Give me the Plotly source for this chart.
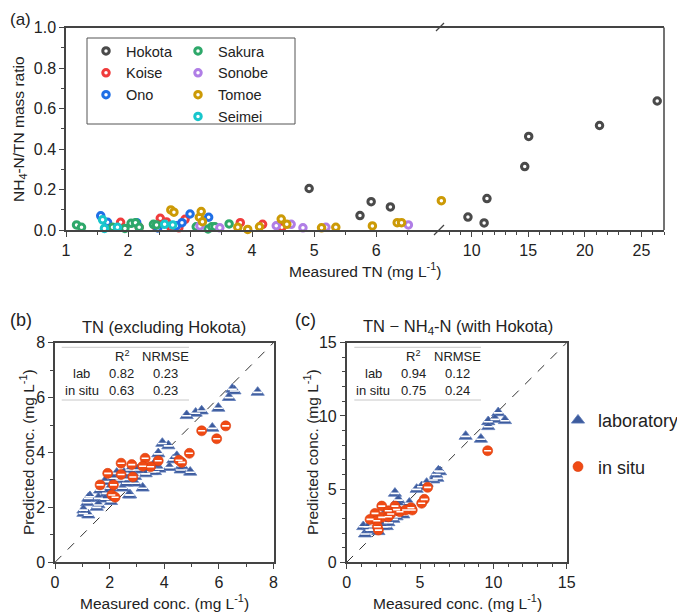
import plotly.graph_objects as go

# ---- (a) NH4-N/TN ratio vs measured TN, by site ----
hokota_tn = [4.92, 5.74, 5.92, 6.23, 9.67, 11.1, 11.35, 14.69, 15.04, 21.3, 26.4]
hokota_ratio = [0.205, 0.071, 0.14, 0.114, 0.064, 0.035, 0.155, 0.313, 0.462, 0.516, 0.637]
koise_tn = [1.88, 2.18, 2.45, 2.52, 2.62, 2.69, 2.82, 2.92, 3.81, 4.17, 4.48]
koise_ratio = [0.038, 0.013, 0.018, 0.058, 0.04, 0.013, 0.011, 0.053, 0.036, 0.028, 0.013]
ono_tn = [1.56, 1.67, 2.14, 2.48, 2.78, 2.87, 3.0, 3.3]
ono_ratio = [0.07, 0.038, 0.036, 0.01, 0.021, 0.036, 0.079, 0.063]
sakura_tn = [1.17, 1.25, 1.75, 1.95, 2.05, 2.12, 2.18, 2.41, 2.46, 3.1, 3.29, 3.35, 3.4, 3.63]
sakura_ratio = [0.025, 0.013, 0.013, 0.008, 0.033, 0.036, 0.013, 0.028, 0.025, 0.016, 0.005, 0.016, 0.016, 0.03]
sonobe_tn = [3.16, 3.48, 4.39, 4.63, 4.82, 5.19, 6.52]
sonobe_ratio = [0.02, 0.011, 0.021, 0.028, 0.011, 0.013, 0.025]
tomoe_tn = [2.69, 2.74, 3.15, 3.18, 3.2, 3.77, 3.93, 4.12, 4.47, 4.56, 5.12, 5.35, 5.94, 6.34, 6.41, 7.32]
tomoe_ratio = [0.099, 0.088, 0.063, 0.091, 0.041, 0.013, 0.003, 0.016, 0.054, 0.028, 0.011, 0.013, 0.02, 0.036, 0.036, 0.145]
seimei_tn = [1.59, 1.62, 1.83, 2.59, 2.72]
seimei_ratio = [0.05, 0.008, 0.013, 0.028, 0.025]

# ---- (b) TN excluding Hokota: measured vs predicted ----
b_lab_meas = [4.82, 5.15, 5.37, 5.98, 5.76, 6.49, 6.57, 6.37, 7.42, 3.93, 4.15, 3.78, 4.46, 4.33,
              4.64, 4.95, 4.19, 3.82, 3.63, 3.54, 3.32, 3.24, 3.02, 2.93, 2.75, 2.65, 2.53, 3.21,
              2.93, 2.75, 2.38, 2.26, 2.14, 2.01, 1.89, 1.83, 1.65, 1.59, 1.53, 1.28, 1.18, 1.04,
              1.04, 1.22, 2.05, 2.47, 1.83, 4.60, 3.66, 2.71, 2.62, 1.59, 1.22]
b_lab_pred = [5.34, 5.43, 5.51, 5.61, 4.88, 6.30, 6.24, 6.00, 6.19, 4.33, 4.24, 3.95, 3.85, 3.73,
              3.51, 3.28, 3.45, 3.39, 3.57, 3.30, 3.22, 3.48, 3.36, 3.12, 3.36, 3.02, 3.24, 2.70,
              2.88, 2.45, 3.00, 3.24, 3.06, 2.70, 2.51, 2.94, 2.63, 2.33, 2.00, 2.39, 2.17, 1.90,
              1.78, 1.72, 2.21, 2.70, 2.30, 3.36, 3.30, 2.45, 2.88, 2.09, 2.33]
b_situ_meas = [5.37, 6.25, 5.92, 4.92, 4.64, 4.54, 3.78, 3.50, 3.30, 3.21, 2.85, 2.81, 2.42, 2.42,
               1.93, 2.14, 1.65, 2.08, 2.20]
b_situ_pred = [4.79, 4.97, 4.50, 3.97, 3.64, 3.72, 3.70, 3.48, 3.79, 3.50, 3.11, 3.56, 3.61, 3.20,
               3.24, 2.82, 2.82, 2.45, 2.37]

# ---- (c) TN - NH4-N with Hokota ----
c_lab_meas = [10.33, 10.11, 9.65, 10.79, 9.65, 2.0, 8.11, 9.15, 6.25, 6.10, 5.90, 5.45, 5.11, 4.77,
              6.36, 6.18, 3.29, 3.52, 4.27, 1.13, 1.25, 1.59, 2.16, 2.73, 2.84, 3.18, 3.07, 3.86,
              3.81, 3.63, 2.61, 1.86, 1.81, 2.73, 2.50, 1.48, 4.02, 2.30, 3.40]
c_lab_pred = [10.21, 9.76, 9.60, 9.67, 9.26, 2.60, 8.60, 8.40, 6.23, 6.00, 5.62, 5.39, 5.16, 4.98,
              6.18, 5.73, 4.71, 4.25, 4.03, 2.43, 1.93, 2.20, 2.09, 2.43, 2.70, 2.93, 3.23, 3.23,
              3.57, 3.84, 3.34, 2.55, 2.25, 2.89, 2.43, 2.43, 3.70, 2.80, 3.10]
c_situ_meas = [9.61, 5.52, 5.29, 5.11, 2.39, 3.29, 4.38, 4.47, 1.93, 2.84, 3.63, 4.02, 1.59, 2.39,
               2.84, 2.05, 2.09, 2.16, 3.00, 3.40]
c_situ_pred = [7.62, 5.12, 4.30, 4.03, 3.84, 3.84, 3.73, 3.57, 3.34, 3.52, 3.45, 3.57, 2.93, 3.07,
               3.11, 2.84, 2.43, 2.20, 3.30, 3.60]

stats_b = [["lab", "0.82", "0.23"], ["in situ", "0.63", "0.23"]]
stats_c = [["lab", "0.94", "0.12"], ["in situ", "0.75", "0.24"]]

# the page body has an 8 px margin, so the figure is a bit smaller than the window
OFF = 8
W, H = 685 - OFF, 615 - OFF
FONT = "Liberation Sans, Arial, sans-serif"
AX = "#444444"
BREAK_LO, BREAK_HI = 7.03, 7.2


def px(x):
    return (x - OFF) / W


def py(y):
    return 1 - (y - OFF) / H


sites = [
    ("Hokota", hokota_tn, hokota_ratio, "#4a4a4a", "legend"),
    ("Koise", koise_tn, koise_ratio, "#f03c3c", "legend"),
    ("Ono", ono_tn, ono_ratio, "#1f6fe6", "legend"),
    ("Sakura", sakura_tn, sakura_ratio, "#2ea86a", "legend2"),
    ("Sonobe", sonobe_tn, sonobe_ratio, "#b07ee6", "legend2"),
    ("Tomoe", tomoe_tn, tomoe_ratio, "#cc9a06", "legend2"),
    ("Seimei", seimei_tn, seimei_ratio, "#18c6cc", "legend2"),
]

fig = go.Figure()

for name, tn, ratio, col, leg in sites:
    mk = dict(symbol="circle", size=6.5, color="white", line=dict(color=col, width=3))
    lx = [a for a in tn if a <= BREAK_LO]
    ly = [b for a, b in zip(tn, ratio) if a <= BREAK_LO]
    rx = [a for a in tn if a > BREAK_LO]
    ry = [b for a, b in zip(tn, ratio) if a > BREAK_LO]
    fig.add_trace(go.Scatter(x=lx, y=ly, mode="markers", name=name, marker=mk,
                             legend=leg, legendgroup=name, cliponaxis=False,
                             xaxis="x", yaxis="y"))
    if rx:
        fig.add_trace(go.Scatter(x=rx, y=ry, mode="markers", name=name, marker=mk,
                                 legendgroup=name, showlegend=False, cliponaxis=False,
                                 xaxis="x2", yaxis="y"))

# (b) and (c) scatter
TRI = "#3d5b9d"
CIR = "#f04a14"
for xa, ya, lim, lab_x, lab_y, situ_x, situ_y, show in [
    ("x3", "y3", 8, b_lab_meas, b_lab_pred, b_situ_meas, b_situ_pred, True),
    ("x4", "y4", 15, c_lab_meas, c_lab_pred, c_situ_meas, c_situ_pred, False),
]:
    fig.add_trace(go.Scatter(x=[0, lim], y=[0, lim], mode="lines", showlegend=False,
                             line=dict(color="#333333", width=1, dash="dash"),
                             xaxis=xa, yaxis=ya))
    fig.add_trace(go.Scatter(x=lab_x, y=lab_y, mode="markers", name="laboratory",
                             marker=dict(symbol="triangle-up", size=11.5, color=TRI,
                                         line=dict(color="#5a78b8", width=0.8)),
                             legend="legend3", legendgroup="lab", showlegend=show,
                             xaxis=xa, yaxis=ya))
    fig.add_trace(go.Scatter(x=lab_x, y=lab_y, mode="markers", showlegend=False, hoverinfo="skip",
                             marker=dict(symbol="line-ew", size=6.5, color="white",
                                         line=dict(color="white", width=1.6)),
                             xaxis=xa, yaxis=ya))
    fig.add_trace(go.Scatter(x=situ_x, y=situ_y, mode="markers", name="in situ",
                             marker=dict(symbol="circle", size=10, color=CIR,
                                         line=dict(color="#d83c0e", width=0.6)),
                             legend="legend3", legendgroup="situ", showlegend=show,
                             xaxis=xa, yaxis=ya))
    fig.add_trace(go.Scatter(x=situ_x, y=situ_y, mode="markers", showlegend=False, hoverinfo="skip",
                             marker=dict(symbol="line-ew", size=5, color="white",
                                         line=dict(color="white", width=1.6)),
                             xaxis=xa, yaxis=ya))

axis_style = dict(showline=True, linecolor=AX, linewidth=1.5, ticks="outside", ticklen=5,
                  tickwidth=1.2, tickcolor=AX, showgrid=False, zeroline=False,
                  tickfont=dict(size=16, color="#222222"))


def minor(dt=None, vals=None):
    m = dict(ticks="outside", ticklen=3, tickcolor=AX, tickwidth=1.2, showgrid=False)
    if vals is not None:
        m["tickvals"] = vals
    else:
        m["dtick"] = dt
    return m


fig.update_layout(
    width=W, height=H,
    margin=dict(l=0, r=0, t=0, b=0, autoexpand=False),
    paper_bgcolor="white", plot_bgcolor="white",
    font=dict(family=FONT, size=15, color="#222222"),
    xaxis=dict(domain=[px(66), px(440)], range=[1, BREAK_LO], anchor="y", mirror=True,
               tickvals=[1, 2, 3, 4, 5, 6], minor=minor(vals=[1.5, 2.5, 3.5, 4.5, 5.5, 6.5]),
               **axis_style),
    xaxis2=dict(domain=[px(440), px(664)], range=[BREAK_HI, 27.0], anchor="y", mirror=True,
                tickvals=[10, 15, 20, 25], minor=minor(dt=1), **axis_style),
    yaxis=dict(domain=[py(230), py(27.5)], range=[0, 1], anchor="x", dtick=0.2, tickformat=".1f",
               minor=minor(dt=0.1), **axis_style),
    xaxis3=dict(domain=[px(55), px(273.5)], range=[0, 8], anchor="y3", mirror=True, dtick=2,
                minor=minor(dt=1), **axis_style),
    yaxis3=dict(domain=[py(562.3), py(342.7)], range=[0, 8], anchor="x3", mirror=True, dtick=2,
                minor=minor(dt=1), **axis_style),
    xaxis4=dict(domain=[px(346.7), px(566.7)], range=[0, 15], anchor="y4", mirror=True, dtick=5,
                minor=minor(dt=1), **axis_style),
    yaxis4=dict(domain=[py(562.3), py(342.7)], range=[0, 15], anchor="x4", mirror=True, dtick=5,
                minor=minor(dt=1), **axis_style),
    legend=dict(x=px(86), y=py(35), xanchor="left", yanchor="top", bgcolor="rgba(0,0,0,0)",
                font=dict(size=14.5), itemwidth=30, tracegroupgap=0),
    legend2=dict(x=px(178), y=py(35), xanchor="left", yanchor="top", bgcolor="rgba(0,0,0,0)",
                 font=dict(size=14.5), itemwidth=30, tracegroupgap=0),
    legend3=dict(x=px(558), y=py(402), xanchor="left", yanchor="top", bgcolor="rgba(0,0,0,0)",
                 font=dict(size=18), itemwidth=30, tracegroupgap=20),
)

shapes = [
    # right frame of panel (a)
    dict(type="line", xref="paper", yref="paper", x0=px(664), x1=px(664), y0=py(230), y1=py(27.5),
         line=dict(color=AX, width=1.5)),
    # axis break marks
    dict(type="line", xref="paper", yref="paper", x0=px(434), x1=px(444), y0=py(235), y1=py(225),
         line=dict(color=AX, width=1.2)),
    dict(type="line", xref="paper", yref="paper", x0=px(436), x1=px(444), y0=py(31), y1=py(23),
         line=dict(color=AX, width=1.2)),
    # legend box in (a)
    dict(type="rect", xref="paper", yref="paper", x0=px(87), x1=px(295), y0=py(124), y1=py(38),
         line=dict(color="#555555", width=1)),
]
# table rules in (b) and (c)
for x0, x1 in [(61.7, 189), (354.3, 481)]:
    for yy in [347.3, 400]:
        shapes.append(dict(type="line", xref="paper", yref="paper", x0=px(x0), x1=px(x1),
                           y0=py(yy), y1=py(yy), line=dict(color="#c8c8c8", width=1)))
fig.update_layout(shapes=shapes)


def note(text, x, y, size=15, angle=0, anchor="center"):
    fig.add_annotation(text=text, x=px(x), y=py(y), xref="paper", yref="paper", showarrow=False,
                       xanchor=anchor, yanchor="middle", textangle=angle,
                       font=dict(family=FONT, size=size, color="#222222"))


note("(a)", 20, 20, 17)
note("(b)", 21, 320, 18)
note("(c)", 305, 320, 18)
note("Measured TN (mg L<sup>-1</sup>)", 365, 270, 15.5)
note("NH<sub>4</sub>-N/TN mass ratio", 19, 129, 15.5, -90)
note("TN (excluding Hokota)", 164, 327, 16.5)
note("TN \u2212 NH<sub>4</sub>-N (with Hokota)", 458, 327, 16.5)
for xc in [164, 457]:
    note("Measured conc. (mg L<sup>-1</sup>)", xc, 602, 15.5)
for xc in [27, 311]:
    note("Predicted conc. (mg L<sup>-1</sup>)", xc, 452, 15.5, -90)

for cols, stats in [((81.7, 121.7, 165.7), stats_b), ((373.3, 413.3, 457.3), stats_c)]:
    note("R<sup>2</sup>", cols[1], 356, 13)
    note("NRMSE", cols[2], 356, 13)
    for row, yy in zip(stats, [373.3, 390.7]):
        for txt, xc in zip(row, cols):
            note(txt, xc, yy, 13)

fig.write_html("out.html")
